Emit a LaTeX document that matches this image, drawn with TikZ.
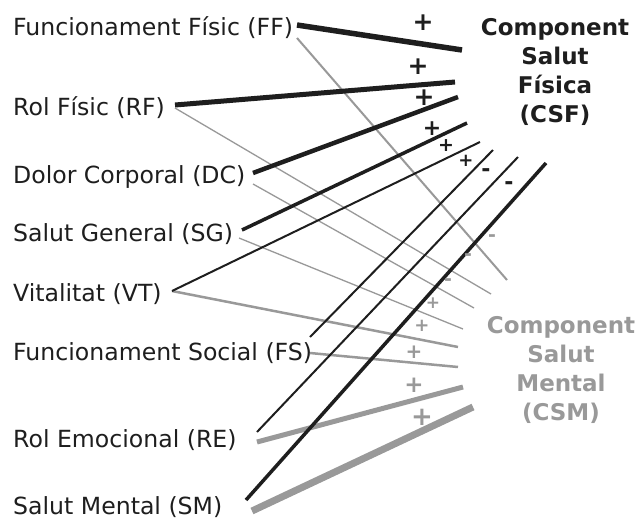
\documentclass[tikz,border=0pt]{standalone}
\usepackage{fontspec}
\setmainfont{DejaVu Sans}
\begin{document}
\begin{tikzpicture}[x=1pt,y=-1pt,
  lbl/.style={anchor=base west,inner sep=0pt,text=ink,font=\fontsize{23.6}{28}\selectfont},
  comp/.style={align=center,inner sep=0pt,font=\bfseries\fontsize{23}{29.2}\selectfont},
  fis/.style={draw=ink,line cap=butt},
  men/.style={draw=mid,line cap=butt},
  sgn/.style={inner sep=0pt,font=\bfseries\fontsize{#1}{#1}\selectfont},
  sgn/.default=20]
\definecolor{ink}{HTML}{1E1E1E}
\definecolor{mid}{HTML}{999999}
\useasboundingbox (0,0) rectangle (641,520);
\fill[white] (0,0) rectangle (641,520);

% scale labels
\node[lbl] (FF) at (13,35)  {Funcionament Físic (FF)};
\node[lbl] (RF) at (13,115) {Rol Físic (RF)};
\node[lbl] (DC) at (13,183) {Dolor Corporal (DC)};
\node[lbl] (SG) at (13,241) {Salut General (SG)};
\node[lbl] (VT) at (13,301) {Vitalitat (VT)};
\node[lbl] (FS) at (13,360) {Funcionament Social (FS)};
\node[lbl] (RE) at (13,447) {Rol Emocional (RE)};
\node[lbl] (SM) at (13,514) {Salut Mental (SM)};

% summary components
\node[comp,text=ink] (CSF) at (555,72) {Component\\Salut\\Física\\(CSF)};
\node[comp,text=mid] (CSM) at (561,370) {Component\\Salut\\Mental\\(CSM)};

% line ends next to each scale
\coordinate (FFa) at (297,25);  \coordinate (FFb) at (297,38);
\coordinate (RFa) at (175,105); \coordinate (RFb) at (175,108);
\coordinate (DCa) at (253,173); \coordinate (DCb) at (253,184);
\coordinate (SGa) at (242,230); \coordinate (SGb) at (239,238);
\coordinate (VTa) at (172,291); \coordinate (VTb) at (172,291);
\coordinate (FSa) at (310,337); \coordinate (FSb) at (310,353);
\coordinate (REa) at (257,432); \coordinate (REb) at (257,442);
\coordinate (SMa) at (246,500); \coordinate (SMb) at (252,511);

% line ends on the physical side
\coordinate (pFF) at (462,50);
\coordinate (pRF) at (455,82);
\coordinate (pDC) at (458,97);
\coordinate (pSG) at (467,123);
\coordinate (pVT) at (480,142);
\coordinate (pFS) at (493,150);
\coordinate (pRE) at (518,157);
\coordinate (pSM) at (546,163);

% line ends on the mental side
\coordinate (mFF) at (507,280);
\coordinate (mRF) at (491,294);
\coordinate (mDC) at (474,308);
\coordinate (mSG) at (463,329);
\coordinate (mVT) at (458,347);
\coordinate (mFS) at (458,367);
\coordinate (mRE) at (463,387);
\coordinate (mSM) at (473,407);

% mental component loadings
\draw[men,line width=2pt]   (FFb) -- (mFF);
\draw[men,line width=1.3pt] (RFb) -- (mRF);
\draw[men,line width=1.3pt] (DCb) -- (mDC);
\draw[men,line width=1.3pt] (SGb) -- (mSG);
\draw[men,line width=2.5pt] (VTb) -- (mVT);
\draw[men,line width=2.5pt] (FSb) -- (mFS);
\draw[men,line width=5pt]   (REb) -- (mRE);
\draw[men,line width=7pt]   (SMb) -- (mSM);

% physical component loadings
\draw[fis,line width=5.5pt] (FFa) -- (pFF);
\draw[fis,line width=5pt]   (RFa) -- (pRF);
\draw[fis,line width=4.5pt] (DCa) -- (pDC);
\draw[fis,line width=3.5pt] (SGa) -- (pSG);
\draw[fis,line width=2pt]   (VTa) -- (pVT);
\draw[fis,line width=2pt]   (FSa) -- (pFS);
\draw[fis,line width=2pt]   (REa) -- (pRE);
\draw[fis,line width=3.5pt] (SMa) -- (pSM);

% signs of the physical loadings
\node[sgn=25,text=ink] (sp1) at (423,23)  {+};
\node[sgn=25,text=ink] (sp2) at (418,67)  {+};
\node[sgn=25,text=ink] (sp3) at (424,98)  {+};
\node[sgn=22,text=ink] (sp4) at (432,129) {+};
\node[sgn=19,text=ink] (sp5) at (446,146) {+};
\node[sgn=18,text=ink] (sp6) at (466,161) {+};
\node[sgn=22,text=ink] (sp7) at (486,173) {-};
\node[sgn=22,text=ink] (sp8) at (509,186) {-};

% signs of the mental loadings
\node[sgn=19,text=mid] (sm1) at (492,238) {-};
\node[sgn=19,text=mid] (sm2) at (468,257) {-};
\node[sgn=19,text=mid] (sm3) at (448,282) {-};
\node[sgn=17,text=mid] (sm4) at (433,303) {+};
\node[sgn=18,text=mid] (sm5) at (422,326) {+};
\node[sgn=20,text=mid] (sm6) at (414,352) {+};
\node[sgn=23,text=mid] (sm7) at (414,385) {+};
\node[sgn=26,text=mid] (sm8) at (422,417) {+};
\end{tikzpicture}
\end{document}
